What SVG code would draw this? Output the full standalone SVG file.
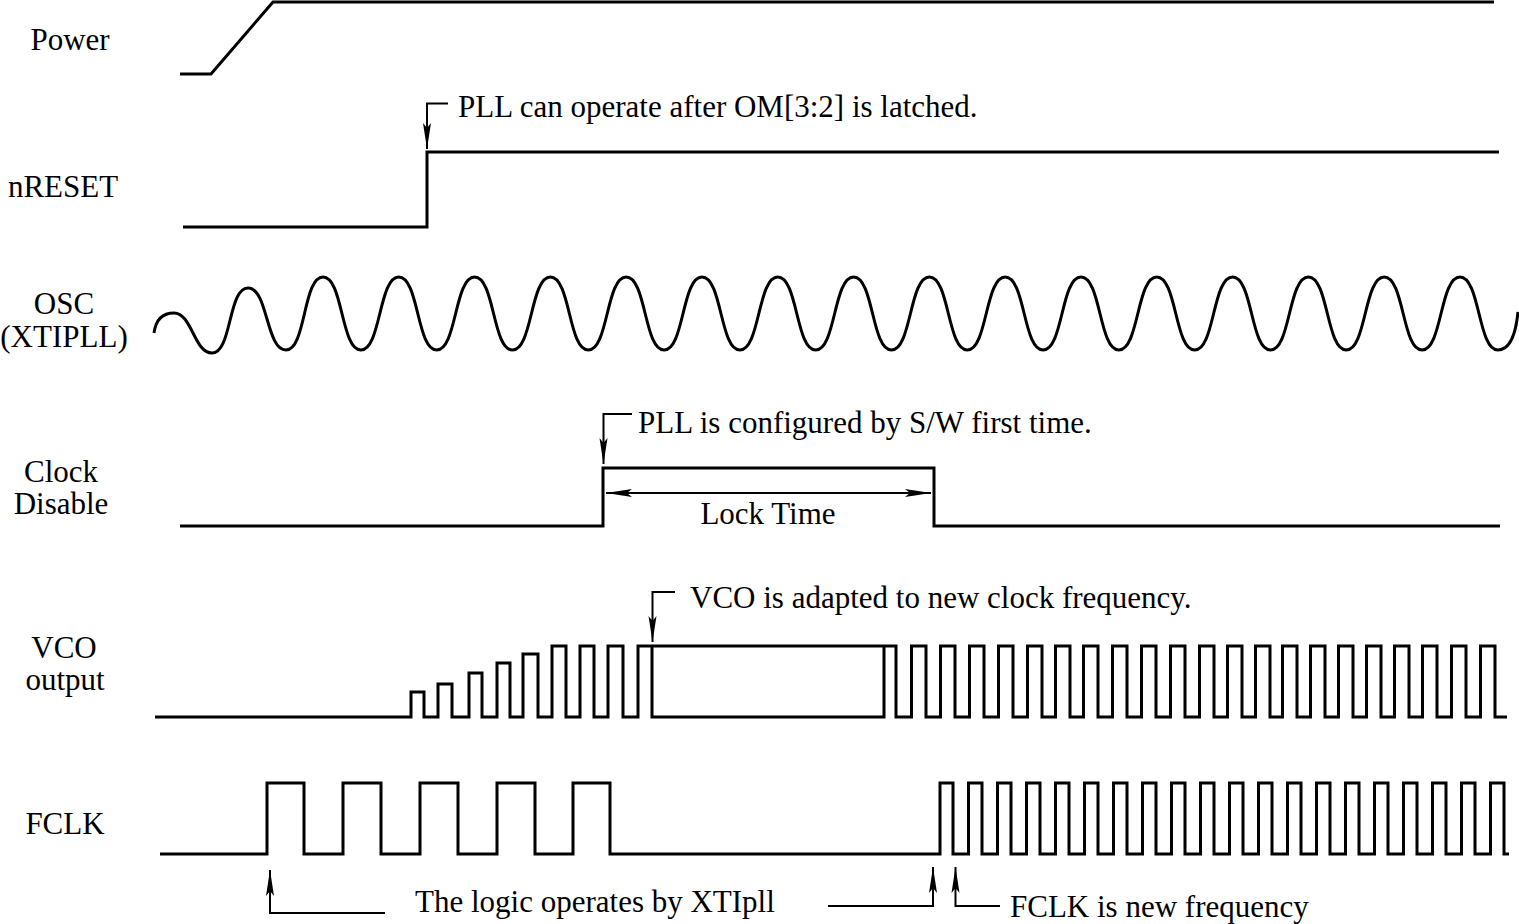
<svg xmlns="http://www.w3.org/2000/svg" width="1519" height="924" viewBox="0 0 1519 924">
<style>
.w{fill:none;stroke:#000;stroke-width:3;stroke-linejoin:miter;stroke-linecap:butt}
.a{fill:none;stroke:#000;stroke-width:2}
.t{font-family:"Liberation Serif","Times New Roman",serif;font-size:31px;fill:#000}
.c{text-anchor:middle}
</style>
<defs>
<marker id="ah" markerUnits="userSpaceOnUse" markerWidth="26" markerHeight="9" viewBox="0 0 26 9" refX="26" refY="4.5" orient="auto-start-reverse">
<path d="M0,0.5 L26,4.5 L0,8.5 L5,4.5 Z" fill="#000"/>
</marker>
</defs>
<rect width="1519" height="924" fill="#fff"/>

<g id="power">
<text class="t c" x="70" y="50">Power</text>
<path class="w" d="M180,74 H211 L273,2 H1494"/>
</g>

<g id="nreset">
<text class="t c" x="63" y="197">nRESET</text>
<path class="w" d="M183,227 H427 V152 H1499"/>
</g>

<g id="osc">
<text class="t c" x="64" y="314">OSC</text>
<text class="t c" x="64" y="347">(XTIPLL)</text>
<path class="w" d="M154,333 C156,318 164,313 174,313 C192,313 194,353 212,353 C232,353 228,288 248,288 C268,288 266,350 286,350 C306,350 303,277 323,277 S340.9,350 360.9,350 S378.8,277 398.8,277 S416.7,350 436.7,350 S454.6,277 474.6,277 S492.5,350 512.5,350 S530.4,277 550.4,277 S568.3,350 588.3,350 S606.2,277 626.2,277 S644.1,350 664.1,350 S682,277 702,277 S719.9,350 739.9,350 S757.8,277 777.8,277 S795.7,350 815.7,350 S833.6,277 853.6,277 S871.5,350 891.5,350 S909.4,277 929.4,277 S947.3,350 967.3,350 S985.2,277 1005.2,277 S1023.1,350 1043.1,350 S1061,277 1081,277 S1098.9,350 1118.9,350 S1136.8,277 1156.8,277 S1174.7,350 1194.7,350 S1212.6,277 1232.6,277 S1250.5,350 1270.5,350 S1288.4,277 1308.4,277 S1326.3,350 1346.3,350 S1364.2,277 1384.2,277 S1402.1,350 1422.1,350 S1440,277 1460,277 S1477.9,350 1497.9,350 C1511,350 1516,332 1518,312"/>
</g>

<g id="clock-disable">
<text class="t c" x="61" y="482">Clock</text>
<text class="t c" x="61" y="514">Disable</text>
<path class="w" d="M180,526 H603 V468 H934 V526 H1500"/>
<text class="t c" x="768" y="524">Lock Time</text>
</g>

<g id="vco">
<text class="t c" x="64" y="658">VCO</text>
<text class="t c" x="65" y="690">output</text>
<path class="w" d="M155,717 H411 V692 H424 V717 H438 V684 H452 V717 H469 V673 H482 V717 H497 V663 H510 V717 H523 V654 H538 V717 H552 V646 H566 V717 H580 V646 H594 V717 H608 V646 H623 V717 H638 V646 H896 V717 H911.5 V646 H926 V717 H940.5 V646 H955 V717 H969.5 V646 H984 V717 H998.5 V646 H1013 V717 H1027.5 V646 H1042 V717 H1055.5 V646 H1070 V717 H1083.5 V646 H1098 V717 H1112.5 V646 H1127 V717 H1141.5 V646 H1156 V717 H1170.5 V646 H1185 V717 H1199.5 V646 H1214 V717 H1227.5 V646 H1242 V717 H1255.5 V646 H1270 V717 H1282.5 V646 H1297 V717 H1310.5 V646 H1325 V717 H1338.5 V646 H1353 V717 H1366.5 V646 H1381 V717 H1394.5 V646 H1409 V717 H1422.5 V646 H1437 V717 H1451.5 V646 H1466 V717 H1480.5 V646 H1495 V717 H1507"/>
<path class="w" d="M652,646 V717 H884 V646"/>
</g>

<g id="fclk">
<text class="t c" x="65" y="834">FCLK</text>
<path class="w" d="M160,854 H267 V783 H304 V854 H343 V783 H381 V854 H420 V783 H458 V854 H497 V783 H535 V854 H573 V783 H610 V854 H940 V783 H953 V854 H968.5 V783 H982 V854 H997.5 V783 H1011 V854 H1026.5 V783 H1040 V854 H1055.5 V783 H1069 V854 H1084.5 V783 H1098 V854 H1113.5 V783 H1127 V854 H1142.5 V783 H1156 V854 H1171.5 V783 H1185 V854 H1200.5 V783 H1214 V854 H1229.5 V783 H1243 V854 H1258.5 V783 H1272 V854 H1287.5 V783 H1301 V854 H1316.5 V783 H1330 V854 H1345.5 V783 H1359 V854 H1374.5 V783 H1388 V854 H1403.5 V783 H1417 V854 H1432.5 V783 H1446 V854 H1461.5 V783 H1475 V854 H1490.5 V783 H1504 V854 H1509"/>
</g>

<g id="annotations">
<text class="t" x="458" y="117">PLL can operate after OM[3:2] is latched.</text>
<text class="t" x="638" y="433">PLL is configured by S/W first time.</text>
<text class="t" x="690" y="608">VCO is adapted to new clock frequency.</text>
<text class="t" x="415" y="912">The logic operates by XTIpll</text>
<text class="t" x="1010" y="917">FCLK is new frequency</text>
</g>

<g id="connectors">
<path class="a" d="M448,103.5 H427 V149" marker-end="url(#ah)"/>
<path class="a" d="M632,414 H603.5 V464" marker-end="url(#ah)"/>
<path class="a" d="M675,592 H652.5 V642" marker-end="url(#ah)"/>
<path class="a" d="M606,493 H931" marker-start="url(#ah)" marker-end="url(#ah)"/>
<path class="a" d="M385,913 H270 V870" marker-end="url(#ah)"/>
<path class="a" d="M828,906 H933 V867" marker-end="url(#ah)"/>
<path class="a" d="M1000,906 H955.5 V867" marker-end="url(#ah)"/>
</g>
</svg>
